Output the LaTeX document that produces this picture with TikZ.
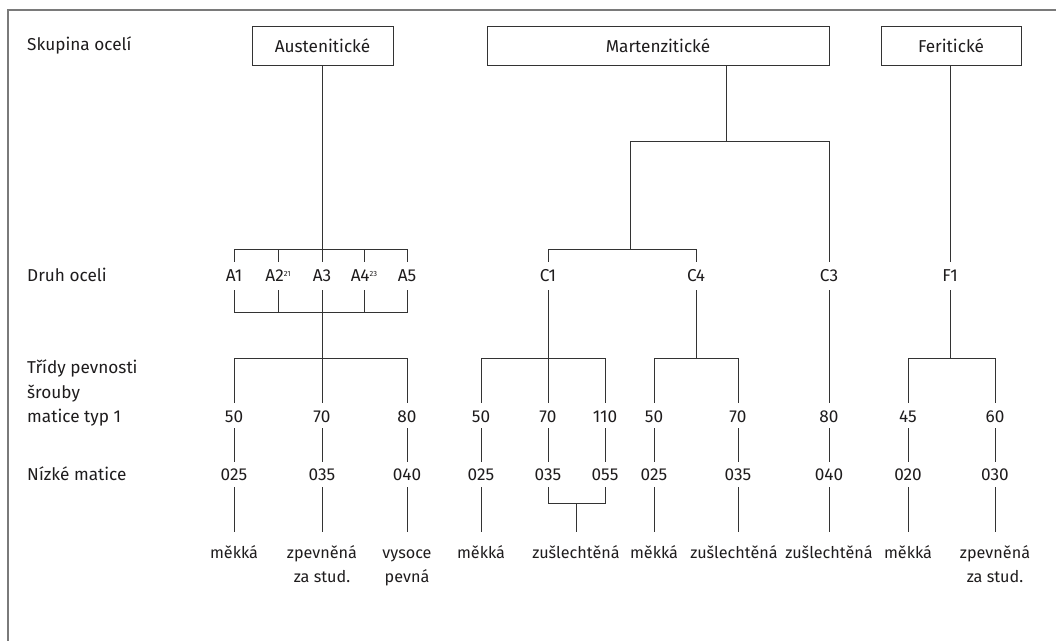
\documentclass[tikz,border=0pt]{standalone}
\usepackage{fontspec}
\setmainfont{Fira Sans}
\definecolor{lnc}{HTML}{333333}
\definecolor{frc}{HTML}{7A7A7A}
\definecolor{txc}{HTML}{1E1C1D}
\newcommand{\supx}[1]{\raisebox{5pt}{\fontsize{7.5}{8}\selectfont #1}}
\begin{document}
\begin{tikzpicture}[x=1pt,y=-1pt,
  every node/.style={font=\fontsize{17.2}{20}\selectfont, text=txc},
  conn/.style={draw=lnc, line width=0.9pt},
  box/.style={draw=lnc, line width=0.9pt, minimum height=39pt, inner sep=0pt},
  side/.style={anchor=base west, align=left, inner sep=0pt},
  rowa/.style={anchor=base, inner sep=0pt, text height=19.9pt, text depth=8.1pt},
  rows/.style={anchor=base, inner sep=0pt, text height=19.9pt, text depth=5.1pt},
  rown/.style={anchor=base, inner sep=0pt, text height=18.9pt, text depth=6.1pt},
  bot/.style={anchor=base, align=center, inner sep=0pt, text height=26pt,
              font=\fontsize{16.2}{24}\selectfont},
  bottwo/.style={anchor=base, align=center, inner sep=0pt, text height=50pt,
              font=\fontsize{16.2}{24}\selectfont}]
\useasboundingbox (0,0) rectangle (1056,640);
% frame
\draw[draw=frc, line width=1.2pt] (8,660) -- (8,10) -- (1070,10);

% top boxes
\node[box, minimum width=141pt] (aus) at (322.5,45.5) {Austenitické};
\node[box, minimum width=342pt] (mar) at (658,45.5) {Martenzitické};
\node[box, minimum width=140pt] (fer) at (951,45.5) {Feritické};

% side labels
\node[side] (l1) at (27,50.5) {Skupina ocelí};
\node[side] (l2) at (27,281.9) {Druh oceli};
\node[side, font=\fontsize{17.2}{24.5}\selectfont] (l3) at (27,422.9) {Třídy pevnosti\\šrouby\\matice typ 1};
\node[side] (l4) at (27,480.9) {Nízké matice};

% steel types
\node[rowa] (a1) at (234,281.9) {A1};
\node[rowa] (a2) at (278,281.9) {A2\supx{21}};
\node[rowa] (a3) at (322,281.9) {A3};
\node[rowa] (a4) at (364,281.9) {A4\supx{23}};
\node[rowa] (a5) at (407,281.9) {A5};
\node[rowa] (c1) at (548,281.9) {C1};
\node[rowa] (c4) at (696,281.9) {C4};
\node[rowa] (c3) at (829,281.9) {C3};
\node[rowa] (f1) at (950,281.9) {F1};

% strength classes
\node[rows] (s1) at (234,422.9) {50};
\node[rows] (s2) at (322,422.9) {70};
\node[rows] (s3) at (407,422.9) {80};
\node[rows] (s4) at (481,422.9) {50};
\node[rows] (s5) at (548,422.9) {70};
\node[rows] (s6) at (605,422.9) {110};
\node[rows] (s7) at (654,422.9) {50};
\node[rows] (s8) at (738,422.9) {70};
\node[rows] (s9) at (829,422.9) {80};
\node[rows] (s10) at (908,422.9) {45};
\node[rows] (s11) at (995,422.9) {60};

% low nuts
\node[rown] (n1) at (234,480.9) {025};
\node[rown] (n2) at (322,480.9) {035};
\node[rown] (n3) at (407,480.9) {040};
\node[rown] (n4) at (481,480.9) {025};
\node[rown] (n5) at (548,480.9) {035};
\node[rown] (n6) at (605,480.9) {055};
\node[rown] (n7) at (654,480.9) {025};
\node[rown] (n8) at (738,480.9) {035};
\node[rown] (n9) at (829,480.9) {040};
\node[rown] (n10) at (908,480.9) {020};
\node[rown] (n11) at (995,480.9) {030};

% bottom
\node[bot] (b1) at (234,558) {měkká};
\node[bottwo] (b2) at (322,582) {zpevněná\\za stud.};
\node[bottwo] (b3) at (407,582) {vysoce\\pevná};
\node[bot] (b4) at (481,558) {měkká};
\node[bot] (b5) at (576,558) {zušlechtěná};
\node[bot] (b6) at (654,558) {měkká};
\node[bot] (b7) at (734,558) {zušlechtěná};
\node[bot] (b8) at (829,558) {zušlechtěná};
\node[bot] (b9) at (908,558) {měkká};
\node[bottwo] (b10) at (995,582) {zpevněná\\za stud.};

% bracket levels
\coordinate (ya) at (0,249);
\coordinate (yb) at (0,312);
\coordinate (yc) at (0,358);
\coordinate (yd) at (0,503);
\coordinate (ms) at (726,141);
\coordinate (cj) at (630,249);
\coordinate (zj) at (576,503);

% austenitic
\draw[conn] (aus.south -| a3) -- (a3.north);
\draw[conn] (a1.north) -- (a1.north |- ya) -- (a5.north |- ya) -- (a5.north);
\draw[conn] (a2.north) -- (a2.north |- ya);
\draw[conn] (a4.north) -- (a4.north |- ya);
\draw[conn] (a1.south) -- (a1.south |- yb) -- (a5.south |- yb) -- (a5.south);
\draw[conn] (a2.south) -- (a2.south |- yb);
\draw[conn] (a4.south) -- (a4.south |- yb);
\draw[conn] (a3.south) -- (s2.north);
\draw[conn] (s1.north) -- (s1.north |- yc) -- (s3.north |- yc) -- (s3.north);

% martensitic
\draw[conn] (mar.south -| ms) -- (ms);
\draw[conn] (cj |- ms) -- (c3.north |- ms) -- (c3.north);
\draw[conn] (cj |- ms) -- (cj);
\draw[conn] (c1.north) -- (c1.north |- cj) -- (c4.north |- cj) -- (c4.north);
\draw[conn] (c1.south) -- (s5.north);
\draw[conn] (s4.north) -- (s4.north |- yc) -- (s6.north |- yc) -- (s6.north);
\draw[conn] (c4.south) -- (c4.south |- yc);
\draw[conn] (s7.north) -- (s7.north |- yc) -- (s8.north |- yc) -- (s8.north);
\draw[conn] (c3.south) -- (s9.north);

% ferritic
\draw[conn] (fer.south -| f1) -- (f1.north);
\draw[conn] (f1.south) -- (f1.south |- yc);
\draw[conn] (s10.north) -- (s10.north |- yc) -- (s11.north |- yc) -- (s11.north);

% classes to low nuts
\foreach \i in {1,...,11} {\draw[conn] (s\i.south) -- (n\i.north);}

% low nuts to bottom
\draw[conn] (n1.south) -- (b1.north);
\draw[conn] (n2.south) -- (b2.north);
\draw[conn] (n3.south) -- (b3.north);
\draw[conn] (n4.south) -- (b4.north);
\draw[conn] (n5.south) -- (n5.south |- yd) -- (n6.south |- yd) -- (n6.south);
\draw[conn] (zj) -- (b5.north);
\draw[conn] (n7.south) -- (b6.north);
\draw[conn] (n8.south) -- (b7.north -| n8);
\draw[conn] (n9.south) -- (b8.north -| n9);
\draw[conn] (n10.south) -- (b9.north);
\draw[conn] (n11.south) -- (b10.north);
\end{tikzpicture}
\end{document}
